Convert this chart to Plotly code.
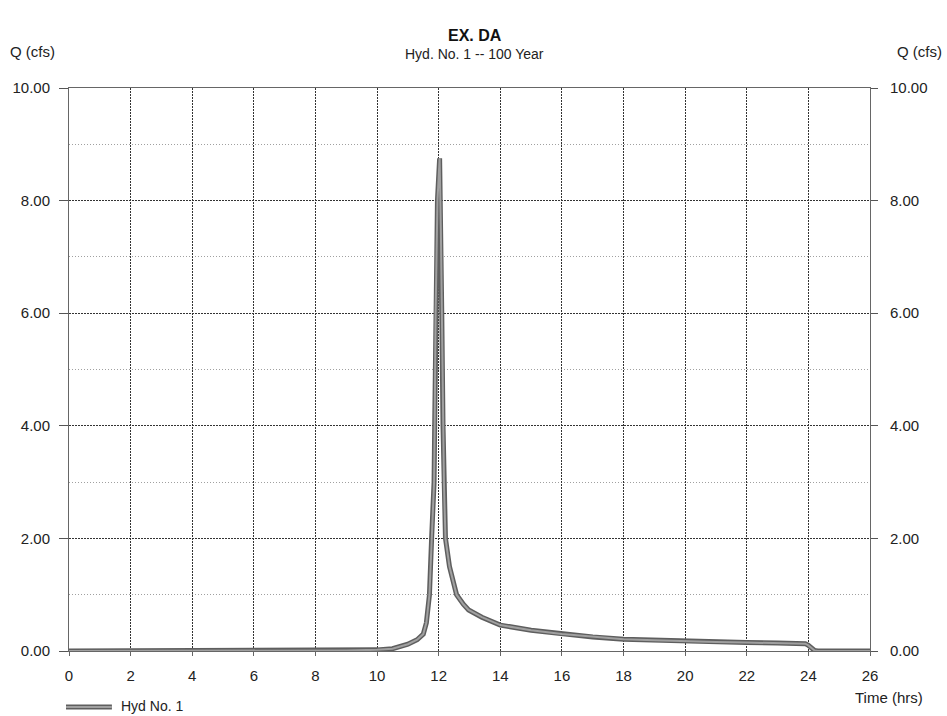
import plotly.graph_objects as go

# Hydrograph
time_hrs = [0, 2, 4, 6, 8, 9, 10, 10.5, 11.0, 11.3, 11.5, 11.6, 11.7, 11.77, 11.85,
            11.87, 11.9, 11.96, 12.03, 12.07, 12.1, 12.14, 12.17, 12.22, 12.35, 12.58,
            12.8, 12.97, 13.4, 14.0, 15, 16, 17, 18, 19, 20, 21, 22, 23, 23.9, 24.0,
            24.1, 24.2, 24.3, 25, 26]
flow_cfs = [0, 0, 0, 0, 0.005, 0.01, 0.02, 0.04, 0.12, 0.2, 0.3, 0.5, 1.0, 2.0, 3.0,
            4.0, 6.0, 8.0, 8.75, 7.5, 6.0, 4.0, 3.0, 2.0, 1.5, 1.0,
            0.83, 0.73, 0.6, 0.46, 0.37, 0.3, 0.25, 0.21, 0.19, 0.17, 0.16, 0.15, 0.14, 0.13, 0.1,
            0.05, 0.01, 0, 0, 0]

x_ticks = list(range(0, 27, 2))
y_ticks = [0, 2, 4, 6, 8, 10]
y_tick_labels = ["0.00", "2.00", "4.00", "6.00", "8.00", "10.00"]
series_name = "Hyd No. 1"

font_family = "Liberation Sans, Arial, sans-serif"
L, R, T, B = 67, 870, 88, 651          # plot area in pixels
W, H = 947, 716
pw, ph = R - L, B - T


def px_x(p):
    return (p - L) / pw


def px_y(p):
    return (B - p) / ph


fig = go.Figure()
fig.add_trace(go.Scatter(
    x=time_hrs, y=flow_cfs, mode="lines", name=series_name,
    line=dict(color="#5e5e5e", width=5), showlegend=False, hoverinfo="skip",
))
fig.add_trace(go.Scatter(
    x=time_hrs, y=flow_cfs, mode="lines", name=series_name,
    line=dict(color="#a0a0a0", width=2), showlegend=False,
))
# invisible trace to activate right axis
fig.add_trace(go.Scatter(x=[0], y=[0], yaxis="y2", mode="markers",
                         marker=dict(opacity=0), showlegend=False, hoverinfo="skip"))

fig.update_layout(
    width=W, height=H,
    margin=dict(l=L, r=W - R, t=T, b=H - B),
    paper_bgcolor="white", plot_bgcolor="white",
    font=dict(family=font_family, size=15, color="#222"),
    showlegend=False,
    xaxis=dict(
        range=[0, 26], tickvals=x_ticks, ticktext=[str(v) for v in x_ticks],
        showgrid=True, gridcolor="#333", griddash="2px,1px", gridwidth=1,
        zeroline=False, showline=True, linecolor="#666", linewidth=1, mirror=True,
        ticks="outside", ticklen=4, tickcolor="#666", ticklabelstandoff=7,
        tickfont=dict(size=15, color="#222"),
    ),
    yaxis=dict(
        range=[0, 10], tickvals=y_ticks, ticktext=y_tick_labels,
        showgrid=True, gridcolor="#333", griddash="2px,1px", gridwidth=1,
        minor=dict(dtick=1, showgrid=True, gridcolor="#a0a0a0", griddash="1px,2px"),
        zeroline=False, showline=True, linecolor="#666", linewidth=1, mirror=True,
        ticks="outside", ticklen=9, tickcolor="#555", ticklabelstandoff=6,
        tickfont=dict(size=15, color="#222"),
    ),
    yaxis2=dict(
        range=[0, 10], tickvals=y_ticks, ticktext=y_tick_labels,
        overlaying="y", side="right", matches="y", showgrid=False, zeroline=False,
        ticks="outside", ticklen=7, tickcolor="#555", ticklabelstandoff=9,
        tickfont=dict(size=15, color="#222"),
    ),
)

ann = [
    dict(text="<b>EX. DA</b>", x=px_x(474), y=px_y(35), xanchor="center",
         font=dict(size=16, color="#111")),
    dict(text="Hyd. No. 1 -- 100 Year", x=px_x(474), y=px_y(54), xanchor="center",
         font=dict(size=14, color="#222")),
    dict(text="Q (cfs)", x=px_x(6), y=px_y(52), xanchor="left",
         font=dict(size=15, color="#222")),
    dict(text="Q (cfs)", x=px_x(944), y=px_y(52), xanchor="right",
         font=dict(size=15, color="#222")),
    dict(text="Time (hrs)", x=px_x(925), y=px_y(697), xanchor="right",
         font=dict(size=15, color="#222")),
    dict(text=series_name, x=px_x(117), y=px_y(706), xanchor="left",
         font=dict(size=14, color="#222")),
]
for a in ann:
    fig.add_annotation(showarrow=False, xref="paper", yref="paper",
                       yanchor="middle", **a)

# legend sample line
fig.add_shape(type="line", xref="paper", yref="paper",
              x0=px_x(64), x1=px_x(110), y0=px_y(707), y1=px_y(707),
              line=dict(color="#5e5e5e", width=5))
fig.add_shape(type="line", xref="paper", yref="paper",
              x0=px_x(64), x1=px_x(110), y0=px_y(707), y1=px_y(707),
              line=dict(color="#a0a0a0", width=2))

fig.write_html("out.html")
